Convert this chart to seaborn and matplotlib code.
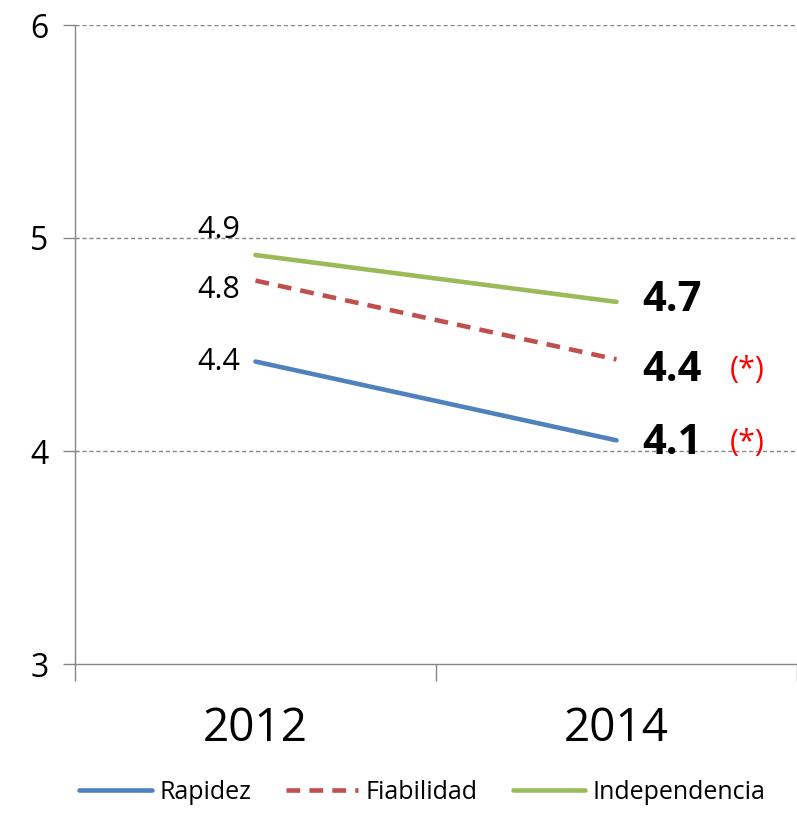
import pandas as pd
import matplotlib.pyplot as plt
import seaborn as sns

# datos
anios = ['2012', '2014']
rapidez = [4.42, 4.05]
fiabilidad = [4.80, 4.43]
independencia = [4.92, 4.70]
etiquetas_2012 = ['4.4', '4.8', '4.9']
etiquetas_2014 = ['4.1', '4.4', '4.7']
marca_signif = ['(*)', '(*)', '']

series = ['Rapidez', 'Fiabilidad', 'Independencia']
colores = {'Rapidez': '#4F81BD', 'Fiabilidad': '#C0504D', 'Independencia': '#9BBB59'}

df = pd.DataFrame({
    'anio': anios * 3,
    'pos': [0, 1] * 3,
    'valor': rapidez + fiabilidad + independencia,
    'serie': [s for s in series for _ in anios],
})

sns.set_style('white')
plt.rcParams['font.family'] = ['Open Sans', 'DejaVu Sans']
plt.rcParams['text.color'] = 'black'
plt.rcParams['xtick.color'] = 'black'
plt.rcParams['ytick.color'] = 'black'

fig = plt.figure(figsize=(7.97, 8.13), dpi=100)
ax = fig.add_axes([75 / 797, 149 / 813, 722 / 797, 639 / 813])

sns.lineplot(data=df, x='pos', y='valor', hue='serie', style='serie',
             palette=colores, dashes={'Rapidez': '', 'Fiabilidad': (3, 2), 'Independencia': ''},
             linewidth=3.3, ax=ax, legend=True)
for ln in ax.get_lines():
    ln.set_solid_capstyle('round')

ax.set_xlim(-0.5, 1.5)
ax.set_ylim(3, 6)
ax.set_yticks([3, 4, 5, 6])
ax.set_yticklabels(['3', '4', '5', '6'], fontsize=23)
ax.set_xticks([0, 1])
ax.set_xticklabels(anios, fontsize=33)
ax.set_xticks([-0.5, 0.5, 1.5], minor=True)
ax.tick_params(axis='x', which='major', length=0, pad=30, bottom=True)
ax.tick_params(axis='x', which='minor', length=12, color='#868686', width=1,
               direction='out', bottom=True)
ax.tick_params(axis='y', length=9, color='#868686', width=1, direction='out', pad=10, left=True)
ax.set_xlabel('')
ax.set_ylabel('')

for y in [4, 5, 6]:
    ax.axhline(y, color='#868686', linestyle=(0, (3, 2)), linewidth=1, zorder=0)

for s in ['top', 'right']:
    ax.spines[s].set_visible(False)
for s in ['left', 'bottom']:
    ax.spines[s].set_color('#868686')
    ax.spines[s].set_linewidth(1)

# etiquetas 2012
vals_2012 = [rapidez[0], fiabilidad[0], independencia[0]]
off_2012 = [0, -9, 25]
for v, t, dy in zip(vals_2012, etiquetas_2012, off_2012):
    ax.annotate(t, (0, v), xytext=(-15, dy), textcoords='offset pixels',
                ha='right', va='center', fontsize=22)

# etiquetas 2014
vals_2014 = [rapidez[1], fiabilidad[1], independencia[1]]
off_2014 = [-3, -11, 1]
for v, t, m, dy in zip(vals_2014, etiquetas_2014, marca_signif, off_2014):
    ax.annotate(t, (1, v), xytext=(26, dy), textcoords='offset pixels',
                ha='left', va='center', fontsize=30, fontweight='bold')
    if m:
        ax.annotate(m, (1, v), xytext=(113, dy), textcoords='offset pixels',
                    ha='left', va='center', fontsize=22, color='red')

handles, labels = ax.get_legend_handles_labels()
ax.get_legend().remove()
leg = fig.legend(handles, labels, loc='lower center', ncol=3, bbox_to_anchor=(0.53, -0.018),
                 frameon=False, fontsize=18, handlelength=2.9, handletextpad=0.3,
                 columnspacing=1.4)
for h in leg.get_lines():
    h.set_linewidth(3.3)

fig.savefig('out.png', dpi=100)
